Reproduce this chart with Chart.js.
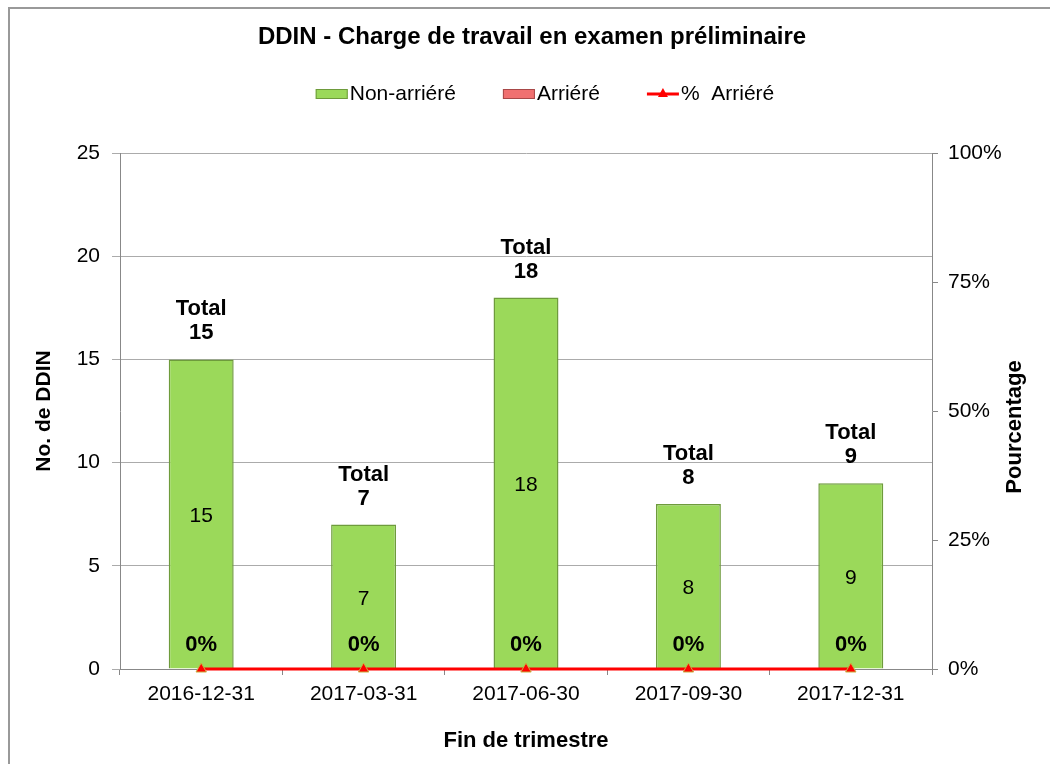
<!DOCTYPE html>
<html lang="fr">
<head>
  <meta charset="UTF-8">
  <title>DDIN - Charge de travail</title>
  <script src="https://cdn.jsdelivr.net/npm/chart.js"></script>
  <style>
    body {
      margin: 0;
      background: #fff;
    }

    .chart-box {
      position: relative;
      width: 1050px;
      height: 764px;
    }
  </style>
</head>
<body>
  <div class="chart-box">
    <canvas id="workloadChart"></canvas>
  </div>

  <script>
    const quarters = ['2016-12-31', '2017-03-31', '2017-06-30', '2017-09-30', '2017-12-31']; // fin de trimestre
    const nonArriere = [15, 7, 18, 8, 9];
    const arriere = [0, 0, 0, 0, 0];
    const pctArriere = [0, 0, 0, 0, 0]; // en %

    const FONT = '"Liberation Sans", Arial, sans-serif';
    Chart.defaults.font.family = FONT;
    Chart.defaults.color = '#000';

    // frame, title, legend and right axis title
    const decorPlugin = {
      id: 'decor',
      beforeDraw(chart) {
        const c = chart.ctx;
        c.save();
        c.fillStyle = '#fff';
        c.fillRect(0, 0, chart.width, chart.height);
        c.strokeStyle = '#999';
        c.lineWidth = 2;
        c.strokeRect(9, 8, 2000, 2000);
        c.restore();
      },
      afterDraw(chart) {
        const c = chart.ctx;
        c.save();
        c.fillStyle = '#000';
        c.textAlign = 'center';
        c.textBaseline = 'middle';
        c.font = 'bold 24px ' + FONT;
        c.fillText('DDIN - Charge de travail en examen préliminaire', 532, 37);

        // legend
        c.font = '21px ' + FONT;
        const ds = chart.data.datasets;
        const boxW = 32, gap = 2, spacing = 47;
        const widths = ds.map(d => boxW + gap + c.measureText(d.label).width);
        let x = 545 - (widths.reduce((a, b) => a + b, 0) + spacing * (ds.length - 1)) / 2;
        const ly = 94;
        ds.forEach((d, i) => {
          if (d.type === 'line') {
            c.strokeStyle = d.borderColor;
            c.lineWidth = 3;
            c.beginPath();
            c.moveTo(x, ly);
            c.lineTo(x + boxW, ly);
            c.stroke();
            c.fillStyle = d.pointBackgroundColor;
            c.beginPath();
            c.moveTo(x + boxW / 2, ly - 6);
            c.lineTo(x + boxW / 2 + 5, ly + 3);
            c.lineTo(x + boxW / 2 - 5, ly + 3);
            c.closePath();
            c.fill();
          } else {
            c.fillStyle = d.backgroundColor;
            c.strokeStyle = d.borderColor;
            c.lineWidth = 1;
            c.fillRect(x, ly - 5, boxW, 10);
            c.strokeRect(x + 0.5, ly - 4.5, boxW - 1, 9);
          }
          c.fillStyle = '#000';
          c.textAlign = 'left';
          c.fillText(d.label, x + boxW + gap, ly);
          x += widths[i] + spacing;
        });

        // right axis title, read bottom to top
        c.font = 'bold 22px ' + FONT;
        c.textAlign = 'center';
        c.translate(1015, 427);
        c.rotate(-Math.PI / 2);
        c.fillText('Pourcentage', 0, 0);
        c.restore();
      }
    };

    // Total above bars, values inside, % above line points
    const labelPlugin = {
      id: 'barLabels',
      afterDatasetsDraw(chart) {
        const c = chart.ctx;
        const y = chart.scales.y;
        const barMeta = chart.getDatasetMeta(0);
        const lineMeta = chart.getDatasetMeta(2);
        c.save();
        c.fillStyle = '#000';
        c.textAlign = 'center';
        c.textBaseline = 'middle';
        quarters.forEach((q, i) => {
          const bx = barMeta.data[i].x;
          const total = nonArriere[i] + arriere[i];
          const top = y.getPixelForValue(total);
          c.font = 'bold 22px ' + FONT;
          c.fillText('Total', bx, top - 50);
          c.fillText(String(total), bx, top - 26);
          if (nonArriere[i] > 0) {
            c.font = '21px ' + FONT;
            c.fillText(String(nonArriere[i]), bx, y.getPixelForValue(nonArriere[i] / 2) + 2);
          }
          const pt = lineMeta.data[i];
          c.font = 'bold 22px ' + FONT;
          c.fillText(pctArriere[i] + '%', pt.x, pt.y - 24);
        });
        c.restore();
      }
    };

    const ctx = document.getElementById('workloadChart').getContext('2d');
    const workloadChart = new Chart(ctx, {
      type: 'bar',
      data: {
        labels: quarters,
        datasets: [{
          label: 'Non-arriéré',
          data: nonArriere,
          backgroundColor: '#9BD95A',
          borderColor: '#6E9B3C',
          borderWidth: 1.5,
          stack: 'a',
          order: 1,
          yAxisID: 'y'
        }, {
          label: 'Arriéré',
          data: arriere,
          backgroundColor: '#F07070',
          borderColor: '#A84848',
          borderWidth: 1.5,
          stack: 'a',
          order: 2,
          yAxisID: 'y'
        }, {
          type: 'line',
          label: '%  Arriéré',
          data: pctArriere,
          borderColor: '#FF0000',
          borderWidth: 3,
          pointStyle: 'triangle',
          pointRadius: 6,
          pointBackgroundColor: '#FF0000',
          pointBorderColor: '#C8B040',
          pointBorderWidth: 1,
          clip: false,
          order: 0,
          yAxisID: 'y1'
        }]
      },
      options: {
        responsive: true,
        maintainAspectRatio: false,
        animation: false,
        categoryPercentage: 0.4,
        barPercentage: 1,
        layout: {
          padding: { left: 0, right: 0, top: 153, bottom: 0 }
        },
        plugins: {
          legend: { display: false },
          title: { display: false },
          tooltip: { enabled: false }
        },
        scales: {
          x: {
            stacked: true,
            afterFit: s => { s.height = 95; },
            grid: { drawOnChartArea: false, tickLength: 6, color: '#888' },
            border: { color: '#888', width: 1 },
            ticks: { font: { size: 21 }, padding: 7 },
            title: {
              display: true,
              text: 'Fin de trimestre',
              font: { size: 22, weight: 'bold' },
              padding: { top: 0, bottom: 10 }
            }
          },
          y: {
            stacked: true,
            position: 'left',
            min: 0,
            max: 25,
            afterFit: s => { s.width = 120; },
            ticks: { stepSize: 5, font: { size: 21 }, padding: 12 },
            grid: { color: '#ababab', tickLength: 8 },
            border: { color: '#888', width: 1 },
            title: {
              display: true,
              text: 'No. de DDIN',
              font: { size: 21, weight: 'bold' },
              padding: { top: 32, bottom: 0 }
            }
          },
          y1: {
            position: 'right',
            min: 0,
            max: 100,
            afterFit: s => { s.width = 118; },
            ticks: {
              stepSize: 25,
              font: { size: 21 },
              padding: 10,
              callback: v => v + '%'
            },
            grid: { drawOnChartArea: false, tickLength: 6, color: '#888' },
            border: { color: '#888', width: 1 }
          }
        }
      },
      plugins: [decorPlugin, labelPlugin]
    });
  </script>
</body>
</html>
